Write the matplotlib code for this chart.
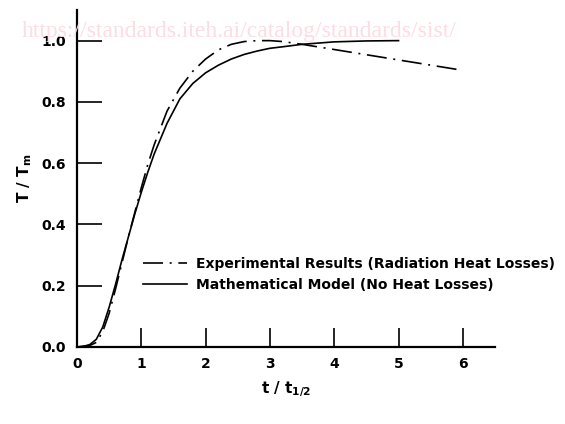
import matplotlib
matplotlib.use("Agg")
import matplotlib.pyplot as plt
from matplotlib.lines import Line2D

# ---- data ----
t_model = [0, 0.1, 0.2, 0.3, 0.4, 0.5, 0.6, 0.7, 0.8, 0.9, 1.0, 1.1, 1.2, 1.4,
           1.6, 1.8, 2.0, 2.2, 2.4, 2.6, 2.8, 3.0, 3.2, 3.5, 4.0, 4.5, 5.0]
T_model = [0, 0.002, 0.008, 0.025, 0.065, 0.13, 0.205, 0.285, 0.36, 0.435,
           0.505, 0.57, 0.63, 0.73, 0.81, 0.86, 0.895, 0.92, 0.94, 0.955,
           0.966, 0.975, 0.98, 0.988, 0.996, 0.999, 1.0]

t_exp = [0, 0.2, 0.3, 0.4, 0.5, 0.6, 0.7, 0.8, 0.9, 1.0, 1.1, 1.2, 1.4, 1.6,
         1.8, 2.0, 2.2, 2.4, 2.6, 2.8, 3.0, 3.2, 3.5, 4.0, 4.5, 5.0, 5.5, 6.0]
T_exp = [0, 0.005, 0.015, 0.05, 0.11, 0.19, 0.275, 0.36, 0.44, 0.52, 0.595,
         0.66, 0.77, 0.845, 0.9, 0.94, 0.97, 0.988, 0.997, 1.0, 1.0, 0.997,
         0.988, 0.971, 0.954, 0.937, 0.92, 0.903]

x_ticks = [0, 1, 2, 3, 4, 5, 6]
x_ticklabels = ["0", "1", "2", "3", "4", "5", "6"]
y_ticks = [0.0, 0.2, 0.4, 0.6, 0.8, 1.0]
y_ticklabels = ["0.0", "0.2", "0.4", "0.6", "0.8", "1.0"]

label_exp = "Experimental Results (Radiation Heat Losses)"
label_model = "Mathematical Model (No Heat Losses)"

# ---- figure ----
plt.rcParams['font.family'] = ['DejaVu Sans']
plt.rcParams['mathtext.default'] = 'regular'

fig = plt.figure(figsize=(5.65, 4.24), dpi=100)
ax = fig.add_axes([77 / 565, 1 - 347 / 424, (495 - 77) / 565, (347 - 10) / 424])

dd = (0, (12, 4, 1.2, 4))
ax.plot(t_exp, T_exp, color="black", lw=1.2, linestyle=dd)
ax.plot(t_model, T_model, color="black", lw=1.2, linestyle="-")

ax.set_xlim(0, 6.5)
ax.set_ylim(0, 1.10)

for s in ["top", "right"]:
    ax.spines[s].set_visible(False)
for s in ["left", "bottom"]:
    ax.spines[s].set_linewidth(1.6)

ax.set_xticks(x_ticks)
ax.set_xticklabels(x_ticklabels)
ax.set_yticks(y_ticks)
ax.set_yticklabels(y_ticklabels)
ax.tick_params(axis="x", direction="in", length=14, width=1.2, pad=7,
               labelsize=10)
ax.tick_params(axis="y", direction="in", length=18, width=1.2, pad=8,
               labelsize=10)
for lab in ax.get_xticklabels() + ax.get_yticklabels():
    lab.set_fontweight("bold")

ax.set_xlabel("t / t$_{1/2}$", fontsize=11, fontweight="bold", labelpad=6)
ax.set_ylabel("T / T$_m$", fontsize=11, fontweight="bold", labelpad=5)

handles = [Line2D([], [], color="black", lw=1.2, linestyle=dd),
           Line2D([], [], color="black", lw=1.2, linestyle="-")]
leg = ax.legend(handles, [label_exp, label_model], loc="upper left",
                bbox_to_anchor=(143 / 565, 1 - 257 / 424),
                bbox_transform=fig.transFigure, frameon=False,
                handlelength=3.2, handletextpad=0.6, labelspacing=0.5,
                borderpad=0, borderaxespad=0,
                prop={"size": 10, "weight": "bold"})

# scan watermark
fig.text(22 / 565, 1 - 32 / 424,
         "https://standards.iteh.ai/catalog/standards/sist/",
         fontsize=17, family="Liberation Serif", color="#fbdde3",
         va="center", ha="left", zorder=0)

fig.savefig("out.png", dpi=100)
